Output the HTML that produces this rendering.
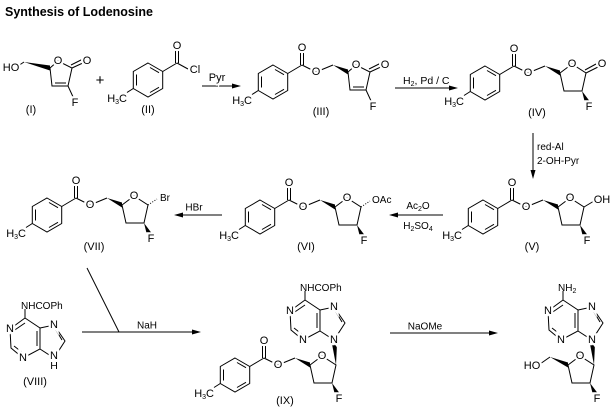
<!DOCTYPE html>
<html><head><meta charset="utf-8"><style>
html,body{margin:0;padding:0;background:#fff;}
svg{display:block;font-family:"Liberation Sans",Arial,sans-serif;}
.t{font-size:11px;fill:#000;stroke:#fff;stroke-width:4.5px;paint-order:stroke;text-anchor:middle;dominant-baseline:central;}
.s{font-size:10px;fill:#000;}
line,polyline,polygon.r{stroke:#000;stroke-width:1;fill:none;}
</style></head><body>
<svg width="615" height="408" viewBox="0 0 615 408" xmlns="http://www.w3.org/2000/svg">
<defs>
<g id="ar">
<polygon class="r" points="0,-17 14.7,-8.5 14.7,8.5 0,17 -14.7,8.5 -14.7,-8.5"/>
<line x1="2" y1="-12.5" x2="11" y2="-7.3"/><line x1="11" y1="7.3" x2="2" y2="12.5"/><line x1="-11.5" y1="-5.5" x2="-11.5" y2="5.5"/>
<line x1="-14.7" y1="8.5" x2="-21" y2="12.5"/>
<line x1="14.7" y1="-8.5" x2="29" y2="-17"/>
<line x1="27.5" y1="-17" x2="27.5" y2="-30"/><line x1="30.5" y1="-17" x2="30.5" y2="-30"/>
</g>
<g id="est">
<line x1="29" y1="-17" x2="43" y2="-10"/><line x1="43" y1="-10" x2="60" y2="-17"/>
<polygon points="60,-17 75,-12.5 75,-7.5" fill="#000"/>
</g>
<g id="sg">
<polyline points="0,0 12,-9 26,0 22,18 4,18 0,0" fill="none" stroke="#000"/>
<polygon points="22,18 25,30 29.5,28" fill="#000"/>
</g>
<g id="lac">
<polyline points="0,0 8,-7 22,0 18,18 2,18 0,0" fill="none" stroke="#000"/>
<line x1="5" y1="15" x2="16" y2="15"/>
<line x1="22" y1="0" x2="35" y2="-6"/><line x1="21" y1="-3" x2="33" y2="-9"/>
<line x1="18" y1="18" x2="24" y2="31"/>
</g>
<g id="pu">
<polyline points="0,0 15,10 15,31 -2,40 -14,30 -15,11 0,0" fill="none" stroke="#000"/>
<line x1="12" y1="13" x2="12" y2="28"/>
<line x1="-11" y1="12.5" x2="0" y2="5"/>
<line x1="-11" y1="28" x2="-2" y2="35"/>
<polyline points="15,10 29,7 40,23 29,40 15,31" fill="none" stroke="#000"/>
<line x1="31" y1="12" x2="37" y2="22"/>
<line x1="0" y1="0" x2="0" y2="-9"/>
</g>
</defs>

<text x="5" y="16" style="font-size:12.5px;font-weight:bold">Synthesis of Lodenosine</text>

<!-- I -->
<line x1="18" y1="66" x2="24" y2="62"/>
<polygon points="24,62 50,65.5 50,70.5" fill="#000"/>
<use href="#lac" x="50" y="68"/>
<text class="t" x="11" y="68">HO</text>
<text class="t" x="58" y="61">O</text>
<text class="t" x="87" y="61">O</text>
<text class="t" x="75" y="103">F</text>
<text class="t" x="31" y="110">(I)</text>
<text x="100" y="85" style="font-size:15px" text-anchor="middle">+</text>

<!-- II -->
<use href="#ar" x="148" y="80"/>
<line x1="177" y1="63" x2="188" y2="69"/>
<text class="t" x="177" y="46">O</text>
<text class="t" x="195" y="70">Cl</text>
<text x="127" y="102" class="s" text-anchor="end" style="font-size:11px">H<tspan font-size="7" dy="2">3</tspan><tspan dy="-2">C</tspan></text>
<text class="t" x="148" y="110">(II)</text>

<!-- Pyr arrow -->
<line x1="202" y1="86" x2="234" y2="86"/><polygon points="241,86 232,83.5 232,88.5" fill="#000"/>
<text class="t" x="217" y="78">Pyr</text>

<!-- III -->
<use href="#ar" x="273" y="82"/><use href="#est" x="273" y="82"/><use href="#lac" x="348" y="72"/>
<text class="t" x="302" y="48">O</text>
<text class="t" x="316" y="72">O</text>
<text class="t" x="356" y="65">O</text>
<text class="t" x="385" y="65">O</text>
<text class="t" x="373" y="107">F</text>
<text x="252" y="104" text-anchor="end" style="font-size:11px">H<tspan font-size="7" dy="2">3</tspan><tspan dy="-2">C</tspan></text>
<text class="t" x="321" y="112">(III)</text>

<!-- H2 arrow -->
<line x1="395" y1="88" x2="450" y2="88"/><polygon points="458,88 449,85.5 449,90.5" fill="#000"/>
<text x="403" y="84" style="font-size:10.5px">H<tspan font-size="7" dy="2">2</tspan><tspan dy="-2">, Pd / C</tspan></text>

<!-- IV -->
<use href="#ar" x="485" y="83"/><use href="#est" x="485" y="83"/><use href="#sg" x="560" y="73"/>
<line x1="586" y1="73" x2="598" y2="67"/><line x1="585" y1="70" x2="596" y2="64"/>
<text class="t" x="514" y="49">O</text>
<text class="t" x="528" y="73">O</text>
<text class="t" x="572" y="64">O</text>
<text class="t" x="602" y="64">O</text>
<text class="t" x="589" y="107">F</text>
<text x="464" y="105" text-anchor="end" style="font-size:11px">H<tspan font-size="7" dy="2">3</tspan><tspan dy="-2">C</tspan></text>
<text class="t" x="537" y="113">(IV)</text>

<!-- red-Al arrow -->
<line x1="533" y1="133" x2="533" y2="172"/><polygon points="533,179 530.5,170 535.5,170" fill="#000"/>
<text x="537" y="150" style="font-size:10px">red-Al</text>
<text x="537" y="164" style="font-size:10px">2-OH-Pyr</text>

<!-- V -->
<use href="#ar" x="483" y="217"/><use href="#est" x="483" y="217"/><use href="#sg" x="558" y="207"/>
<line x1="584" y1="207" x2="594" y2="201"/>
<text class="t" x="512" y="183">O</text>
<text class="t" x="526" y="207">O</text>
<text class="t" x="570" y="198">O</text>
<text class="t" x="602" y="200">OH</text>
<text class="t" x="587" y="241">F</text>
<text x="462" y="239" text-anchor="end" style="font-size:11px">H<tspan font-size="7" dy="2">3</tspan><tspan dy="-2">C</tspan></text>
<text class="t" x="532" y="247">(V)</text>

<!-- Ac2O arrow -->
<line x1="443" y1="215" x2="397" y2="215"/><polygon points="389,215 398,212.5 398,217.5" fill="#000"/>
<text x="418" y="209" text-anchor="middle" style="font-size:10px">Ac<tspan font-size="7" dy="2">2</tspan><tspan dy="-2">O</tspan></text>
<text x="418" y="229" text-anchor="middle" style="font-size:10px">H<tspan font-size="7" dy="2">2</tspan><tspan dy="-2">SO</tspan><tspan font-size="7" dy="2">4</tspan></text>

<!-- VI -->
<use href="#ar" x="260" y="217"/><use href="#est" x="260" y="217"/><use href="#sg" x="335" y="207"/>
<line x1="361" y1="207" x2="370" y2="201" stroke-width="3" stroke-dasharray="1 1.6"/>
<text class="t" x="289" y="183">O</text>
<text class="t" x="303" y="207">O</text>
<text class="t" x="347" y="198">O</text>
<text x="372" y="203" style="font-size:10px">OAc</text>
<text class="t" x="364" y="241">F</text>
<text x="239" y="239" text-anchor="end" style="font-size:11px">H<tspan font-size="7" dy="2">3</tspan><tspan dy="-2">C</tspan></text>
<text class="t" x="306" y="247">(VI)</text>

<!-- HBr arrow -->
<line x1="222" y1="215" x2="182" y2="215"/><polygon points="174,215 183,212.5 183,217.5" fill="#000"/>
<text class="t" x="194" y="208" style="font-size:10px">HBr</text>

<!-- VII -->
<use href="#ar" x="47" y="215"/><use href="#est" x="47" y="215"/><use href="#sg" x="122" y="205"/>
<line x1="148" y1="205" x2="157" y2="199" stroke-width="3" stroke-dasharray="1 1.6"/>
<text class="t" x="76" y="181">O</text>
<text class="t" x="90" y="205">O</text>
<text class="t" x="134" y="196">O</text>
<text x="160" y="201" style="font-size:10px">Br</text>
<text class="t" x="151" y="239">F</text>
<text x="26" y="237" text-anchor="end" style="font-size:11px">H<tspan font-size="7" dy="2">3</tspan><tspan dy="-2">C</tspan></text>
<text class="t" x="94" y="247">(VII)</text>

<!-- VIII -->
<use href="#pu" x="25" y="318"/>
<text x="21" y="309" style="font-size:10px">NHCOPh</text>
<text class="t" x="10" y="329">N</text>
<text class="t" x="23" y="358">N</text>
<text class="t" x="54" y="325">N</text>
<text class="t" x="54" y="356">N</text>
<text x="54" y="369" text-anchor="middle" style="font-size:10.5px">H</text>
<text class="t" x="35" y="382">(VIII)</text>

<!-- NaH -->
<line x1="82" y1="332" x2="193" y2="332"/><polygon points="201,332 192,329.5 192,334.5" fill="#000"/>
<line x1="87" y1="268" x2="119" y2="332"/>
<text class="t" x="147" y="326" style="font-size:10px">NaH</text>

<!-- IX -->
<use href="#ar" x="235" y="375"/><use href="#est" x="235" y="375"/><use href="#sg" x="310" y="365"/>
<polygon points="336,365 332,344 337,344" fill="#000"/>
<use href="#pu" x="305" y="300"/>
<text x="300" y="291" style="font-size:10px">NHCOPh</text>
<text class="t" x="290" y="311">N</text>
<text class="t" x="303" y="340">N</text>
<text class="t" x="334" y="307">N</text>
<text class="t" x="334" y="340">N</text>
<text class="t" x="264" y="341">O</text>
<text class="t" x="278" y="365">O</text>
<text class="t" x="322" y="356">O</text>
<text class="t" x="339" y="399">F</text>
<text x="214" y="397" text-anchor="end" style="font-size:11px">H<tspan font-size="7" dy="2">3</tspan><tspan dy="-2">C</tspan></text>
<text class="t" x="285" y="401">(IX)</text>

<!-- NaOMe -->
<line x1="390" y1="333" x2="490" y2="333"/><polygon points="498,333 489,330.5 489,335.5" fill="#000"/>
<text class="t" x="425" y="327" style="font-size:10px">NaOMe</text>

<!-- X -->
<line x1="540" y1="364" x2="550" y2="357"/>
<polygon points="550,357 568,362.5 568,367.5" fill="#000"/>
<use href="#sg" x="568" y="365"/>
<polygon points="594,365 590,344 595,344" fill="#000"/>
<use href="#pu" x="563" y="300"/>
<text x="558" y="291" style="font-size:10px">NH<tspan font-size="7" dy="2">2</tspan></text>
<text class="t" x="548" y="311">N</text>
<text class="t" x="561" y="340">N</text>
<text class="t" x="592" y="307">N</text>
<text class="t" x="592" y="340">N</text>
<text class="t" x="532" y="366">HO</text>
<text class="t" x="580" y="356">O</text>
<text class="t" x="597" y="399">F</text>
</svg>
</body></html>
